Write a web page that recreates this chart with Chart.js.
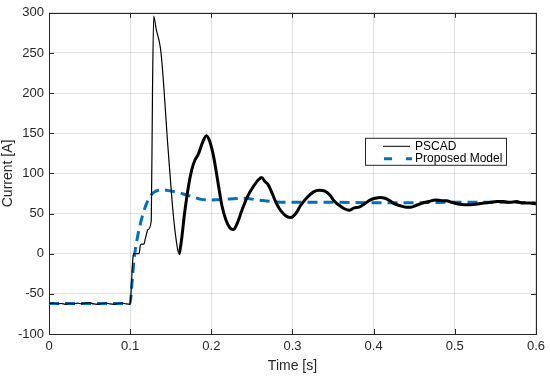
<!DOCTYPE html>
<html>
<head>
<meta charset="utf-8">
<script src="https://cdn.jsdelivr.net/npm/chart.js@4"></script>
<style>
  body { margin: 0; background: #fff; }
  #wrap { width: 550px; height: 378px; }
</style>
</head>
<body>
<div id="wrap"><canvas id="current"></canvas></div>
<script>
// values
var pscadTime = [0, 0.005, 0.01, 0.015, 0.02, 0.025, 0.03, 0.035, 0.04, 0.045, 0.05, 0.055, 0.06, 0.065, 0.07, 0.075, 0.08, 0.085, 0.09, 0.095, 0.1,
  0.1015, 0.103, 0.104, 0.111, 0.1125, 0.114, 0.117, 0.119, 0.122, 0.126, 0.1275, 0.129, 0.132, 0.137, 0.139, 0.142, 0.146, 0.149, 0.153, 0.157, 0.16,
  0.163, 0.167, 0.172, 0.176, 0.18, 0.184, 0.189, 0.194, 0.198, 0.203, 0.208, 0.213, 0.218, 0.223, 0.227, 0.232, 0.238, 0.245, 0.252, 0.258, 0.262,
  0.266, 0.27, 0.275, 0.28, 0.286, 0.292, 0.298, 0.304, 0.31, 0.318, 0.326, 0.333, 0.34, 0.346, 0.352, 0.358, 0.364, 0.37, 0.376, 0.382, 0.39, 0.396,
  0.402, 0.408, 0.414, 0.42, 0.426, 0.432, 0.44, 0.446, 0.452, 0.46, 0.468, 0.476, 0.484, 0.49, 0.496, 0.504, 0.512, 0.52, 0.528, 0.536, 0.544, 0.552,
  0.56, 0.568, 0.576, 0.584, 0.592, 0.6];
var pscadCurrent = [-62, -61.5, -62.5, -62, -63, -62, -62.5, -61.5, -62.5, -61.5, -61, -62.5, -63, -62, -61.5, -62.5, -63, -62, -61.5, -62.5, -63,
  -40, -10, 0, 0, 10, 12, 12, 20, 30, 41, 200, 296, 280, 258, 240, 200, 140, 100, 50, 15, 0,
  15, 50, 85, 105, 117, 124, 138, 147, 140, 120, 90, 60, 42, 32, 30, 38, 55, 72, 84, 92, 95,
  90, 86, 75, 63, 53, 47, 45, 50, 60, 70, 77, 79, 78, 73, 65, 60, 56, 54, 57, 58, 63, 67,
  69, 70, 69, 66, 62, 60, 58, 58, 60, 63, 65, 67, 66, 66, 64, 62, 61, 61, 62, 63, 64, 65,
  65, 64, 65, 63, 63, 62];

var modelTime = [0, 0.1, 0.102, 0.105, 0.108, 0.112, 0.116, 0.12, 0.125, 0.13, 0.135, 0.14, 0.15, 0.16, 0.17, 0.18, 0.186, 0.2, 0.22, 0.24, 0.26, 0.28, 0.3, 0.35, 0.4, 0.45, 0.5, 0.55, 0.6];
var modelCurrent = [-62, -62, -40, -5, 15, 35, 50, 62, 72, 77, 79, 79.5, 78, 76, 73, 70, 68, 67, 68, 69, 66.5, 64.5, 64, 64, 63.5, 63.5, 64, 64, 63.5];

var xTicks = [0, 0.1, 0.2, 0.3, 0.4, 0.5, 0.6];
var yTicks = [-100, -50, 0, 50, 100, 150, 200, 250, 300];

var seriesNames = ["PSCAD", "Proposed Model"];

var axisGray = "#262626";
var modelBlue = "#0072BD";

function toPoints(xs, ys) {
  return xs.map(function(x, i) { return {x: x, y: ys[i]}; });
}

// MATLAB style box, inward ticks and legend
var matlabFrame = {
  id: "matlabFrame",
  beforeDatasetsDraw: function(chart) {
    var ctx = chart.ctx;
    var a = chart.chartArea;
    var xs = chart.scales.x, ys = chart.scales.y;
    ctx.save();
    ctx.strokeStyle = axisGray;
    ctx.lineWidth = 1;
    ctx.beginPath();
    xTicks.forEach(function(v) {
      var p = Math.round(xs.getPixelForValue(v)) + 0.5;
      ctx.moveTo(p, a.bottom); ctx.lineTo(p, a.bottom - 5);
      ctx.moveTo(p, a.top); ctx.lineTo(p, a.top + 5);
    });
    yTicks.forEach(function(v) {
      var p = Math.round(ys.getPixelForValue(v)) + 0.5;
      ctx.moveTo(a.left, p); ctx.lineTo(a.left + 5, p);
      ctx.moveTo(a.right, p); ctx.lineTo(a.right - 5, p);
    });
    ctx.stroke();
    ctx.strokeRect(Math.round(a.left) + 0.5, Math.round(a.top) + 0.5, Math.round(a.right - a.left), Math.round(a.bottom - a.top));
    ctx.restore();
  },
  afterDatasetsDraw: function(chart) {
    var ctx = chart.ctx;
    var a = chart.chartArea;
    var bx = a.left + 316, by = a.top + 125, bw = 141, bh = 27;
    ctx.save();
    ctx.fillStyle = "#fff";
    ctx.fillRect(bx, by, bw, bh);
    ctx.strokeStyle = axisGray;
    ctx.lineWidth = 1;
    ctx.strokeRect(bx + 0.5, by + 0.5, bw, bh);

    ctx.strokeStyle = "#000";
    ctx.lineWidth = 1;
    ctx.beginPath();
    ctx.moveTo(bx + 18, by + 8.5); ctx.lineTo(bx + 45, by + 8.5);
    ctx.stroke();

    ctx.strokeStyle = modelBlue;
    ctx.lineWidth = 3;
    ctx.beginPath();
    ctx.moveTo(bx + 19, by + 21); ctx.lineTo(bx + 27, by + 21);
    ctx.moveTo(bx + 41, by + 21); ctx.lineTo(bx + 47, by + 21);
    ctx.stroke();

    ctx.fillStyle = "#000";
    ctx.font = "12px 'Liberation Sans', Arial, sans-serif";
    ctx.textBaseline = "middle";
    ctx.fillText(seriesNames[0], bx + 50, by + 8.5);
    ctx.fillText(seriesNames[1], bx + 50, by + 21);
    ctx.restore();
  }
};

var tickFont = {family: "'Liberation Sans', Arial, sans-serif", size: 13};

var chart = new Chart(document.getElementById("current"), {
  type: "line",
  data: {
    datasets: [{
      label: seriesNames[0],
      data: toPoints(pscadTime, pscadCurrent),
      borderColor: "#000",
      borderWidth: 1,
      pointRadius: 0,
      cubicInterpolationMode: "monotone",
      segment: {
        borderWidth: function(c) { return c.p0.parsed.x >= 0.158 ? 3 : 1.2; }
      }
    }, {
      label: seriesNames[1],
      data: toPoints(modelTime, modelCurrent),
      borderColor: modelBlue,
      borderWidth: 3,
      borderDash: [10, 6],
      pointRadius: 0,
      cubicInterpolationMode: "monotone"
    }]
  },
  options: {
    responsive: true,
    maintainAspectRatio: false,
    animation: false,
    layout: {padding: {top: 10, right: 14, left: 0, bottom: 0}},
    plugins: {legend: {display: false}, tooltip: {enabled: false}},
    scales: {
      x: {
        type: "linear",
        min: 0, max: 0.6,
        afterBuildTicks: function(s) { s.ticks = xTicks.map(function(v) { return {value: v}; }); },
        afterFit: function(s) { s.height = 44; },
        ticks: {
          color: axisGray, font: tickFont, padding: 5, maxRotation: 0,
          callback: function(v) { return String(Math.round(v * 10) / 10); }
        },
        grid: {color: "rgba(0,0,0,0.12)", drawTicks: false},
        border: {display: false},
        title: {display: true, text: "Time [s]", color: axisGray, font: {family: tickFont.family, size: 14}, padding: {top: 2, bottom: 3}}
      },
      y: {
        min: -100, max: 300,
        afterBuildTicks: function(s) { s.ticks = yTicks.map(function(v) { return {value: v}; }); },
        afterFit: function(s) { s.width = 49; },
        ticks: {color: axisGray, font: tickFont, padding: 5},
        grid: {color: "rgba(0,0,0,0.12)", drawTicks: false},
        border: {display: false},
        title: {display: true, text: "Current [A]", color: axisGray, font: {family: tickFont.family, size: 14}, padding: {top: 0, bottom: 2}}
      }
    }
  },
  plugins: [matlabFrame]
});
</script>
</body>
</html>
